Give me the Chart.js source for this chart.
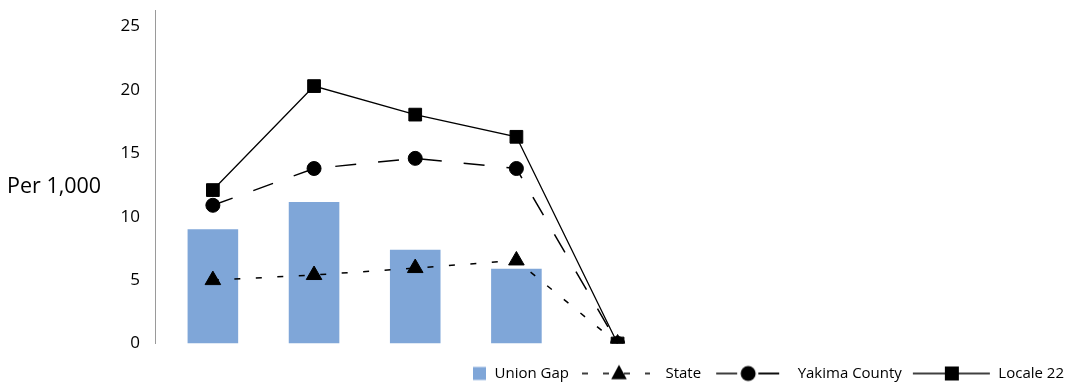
<!DOCTYPE html>
<html>
<head>
<meta charset="utf-8">
<script src="https://cdn.jsdelivr.net/npm/chart.js@4.4.1/dist/chart.umd.min.js"></script>
<style>
  html, body { margin: 0; padding: 0; background: #fff; }
  #wrap { width: 1068px; height: 386px; position: relative; }
</style>
</head>
<body>
<div id="wrap"><canvas id="c" width="1068" height="386"></canvas></div>
<script>
// ---- data ----
const categories = ['Period 1', 'Period 2', 'Period 3', 'Period 4', 'Period 5'];
const unionGap = [9.0, 11.15, 7.4, 5.9, 0];
const state = [5.0, 5.4, 5.95, 6.55, 0];
const yakimaCounty = [10.9, 13.8, 14.6, 13.8, 0];
const locale22 = [12.1, 20.3, 18.05, 16.3, 0];
const yTicks = [0, 5, 10, 15, 20, 25];
const yAxisTitle = 'Per 1,000';
const seriesNames = ['Union Gap', 'State', 'Yakima County', 'Locale 22'];

const BAR = '#7fa6d8';
const FONT = "'Open Sans', 'Noto Sans', sans-serif";

function pts(arr) { return arr.map((v, i) => ({ x: i, y: v })); }

// legend sample images (line + marker), all same canvas width
const LW = 80, LH = 20;
function legendImg(draw) {
  const c = document.createElement('canvas');
  c.width = LW; c.height = LH;
  const g = c.getContext('2d');
  draw(g);
  return c;
}
const imgUnion = legendImg(g => { g.fillStyle = BAR; g.fillRect(66, 3.5, 13, 13); });
const imgState = legendImg(g => {
  g.strokeStyle = '#000'; g.lineWidth = 1.5; g.setLineDash([6, 15]);
  g.beginPath(); g.moveTo(4, 10); g.lineTo(72, 10); g.stroke();
  g.setLineDash([]); g.fillStyle = '#000';
  const cx = 41, r = 9;
  g.beginPath(); g.moveTo(cx, 10 - r * 0.75 - 2);
  g.lineTo(cx + r * 0.866, 10 + r * 0.75 - 2 + 1);
  g.lineTo(cx - r * 0.866, 10 + r * 0.75 - 2 + 1); g.closePath(); g.fill();
});
const imgYakima = legendImg(g => {
  g.strokeStyle = '#000'; g.lineWidth = 1.5; g.setLineDash([21, 22]);
  g.beginPath(); g.moveTo(6, 10); g.lineTo(69, 10); g.stroke();
  g.setLineDash([21]);
  g.beginPath(); g.moveTo(48, 10); g.lineTo(69, 10); g.stroke();
  g.fillStyle = '#000'; g.beginPath(); g.arc(38, 10, 7.5, 0, Math.PI * 2); g.fill();
});
const imgLocale = legendImg(g => {
  g.strokeStyle = '#000'; g.lineWidth = 1.3;
  g.beginPath(); g.moveTo(2, 10); g.lineTo(79, 10); g.stroke();
  g.fillStyle = '#000'; g.fillRect(34, 3, 14, 14);
});
const legendImgs = [imgUnion, imgState, imgYakima, imgLocale];

const titlePlugin = {
  id: 'sideTitle',
  afterDraw(chart) {
    const ctx = chart.ctx;
    ctx.save();
    ctx.font = "21.5px " + FONT;
    ctx.fillStyle = '#000';
    ctx.textAlign = 'left';
    ctx.textBaseline = 'middle';
    ctx.fillText(yAxisTitle, 7, 187);
    ctx.restore();
  }
};

new Chart(document.getElementById('c'), {
  type: 'bar',
  data: {
    datasets: [
      { type: 'bar', label: seriesNames[0], data: pts(unionGap), backgroundColor: BAR,
        borderWidth: 0, barPercentage: 0.5, categoryPercentage: 1.0, order: 5 },
      { type: 'line', label: seriesNames[1], data: pts(state), borderColor: '#000', borderWidth: 1.5,
        borderDash: [6, 15.5], pointStyle: 'triangle', pointRadius: 9, pointBackgroundColor: '#000',
        pointBorderColor: '#000', pointBorderWidth: 1, tension: 0, order: 1 },
      { type: 'line', label: seriesNames[2], data: pts(yakimaCounty), borderColor: '#000', borderWidth: 1.5,
        borderDash: [21, 22], pointStyle: 'circle', pointRadius: 7, pointBackgroundColor: '#000',
        pointBorderColor: '#000', pointBorderWidth: 1, tension: 0, order: 2 },
      { type: 'line', label: seriesNames[3], data: pts(locale22), borderColor: '#000', borderWidth: 1.3,
        pointStyle: 'rect', pointRadius: 9, pointBackgroundColor: '#000',
        pointBorderColor: '#000', pointBorderWidth: 1, tension: 0, order: 3 }
    ]
  },
  options: {
    responsive: false,
    animation: false,
    devicePixelRatio: 1,
    layout: { padding: { top: 6, right: -5, bottom: -5, left: 0 } },
    scales: {
      x: {
        type: 'linear',
        offset: false,
        min: -0.572,
        max: 8.353,
        grid: { display: false, offset: false, drawTicks: true, tickLength: 13.5 },
        border: { display: false },
        ticks: { display: false }
      },
      y: {
        min: 0,
        max: 26.3,
        afterBuildTicks: s => { s.ticks = yTicks.map(v => ({ value: v })); },
        afterFit: s => { s.width = 155; s.paddingTop = 0; s.paddingBottom = 0; },
        grid: { display: false, drawTicks: true, tickLength: 8, color: '#9a9a9a' },
        border: { display: true, color: '#9a9a9a', width: 1 },
        ticks: { color: '#000', padding: 7, font: { family: FONT, size: 17 } }
      }
    },
    plugins: {
      tooltip: { enabled: false },
      legend: {
        position: 'bottom',
        align: 'end',
        labels: {
          usePointStyle: true,
          pointStyleWidth: LW,
          padding: 9,
          color: '#000',
          font: { family: FONT, size: 15 },
          generateLabels: chart => seriesNames.map((n, i) => ({
            text: n, pointStyle: legendImgs[i], datasetIndex: i,
            fillStyle: '#000', strokeStyle: '#000', lineWidth: 0, hidden: false
          }))
        }
      }
    }
  },
  plugins: [titlePlugin]
});
</script>
</body>
</html>
